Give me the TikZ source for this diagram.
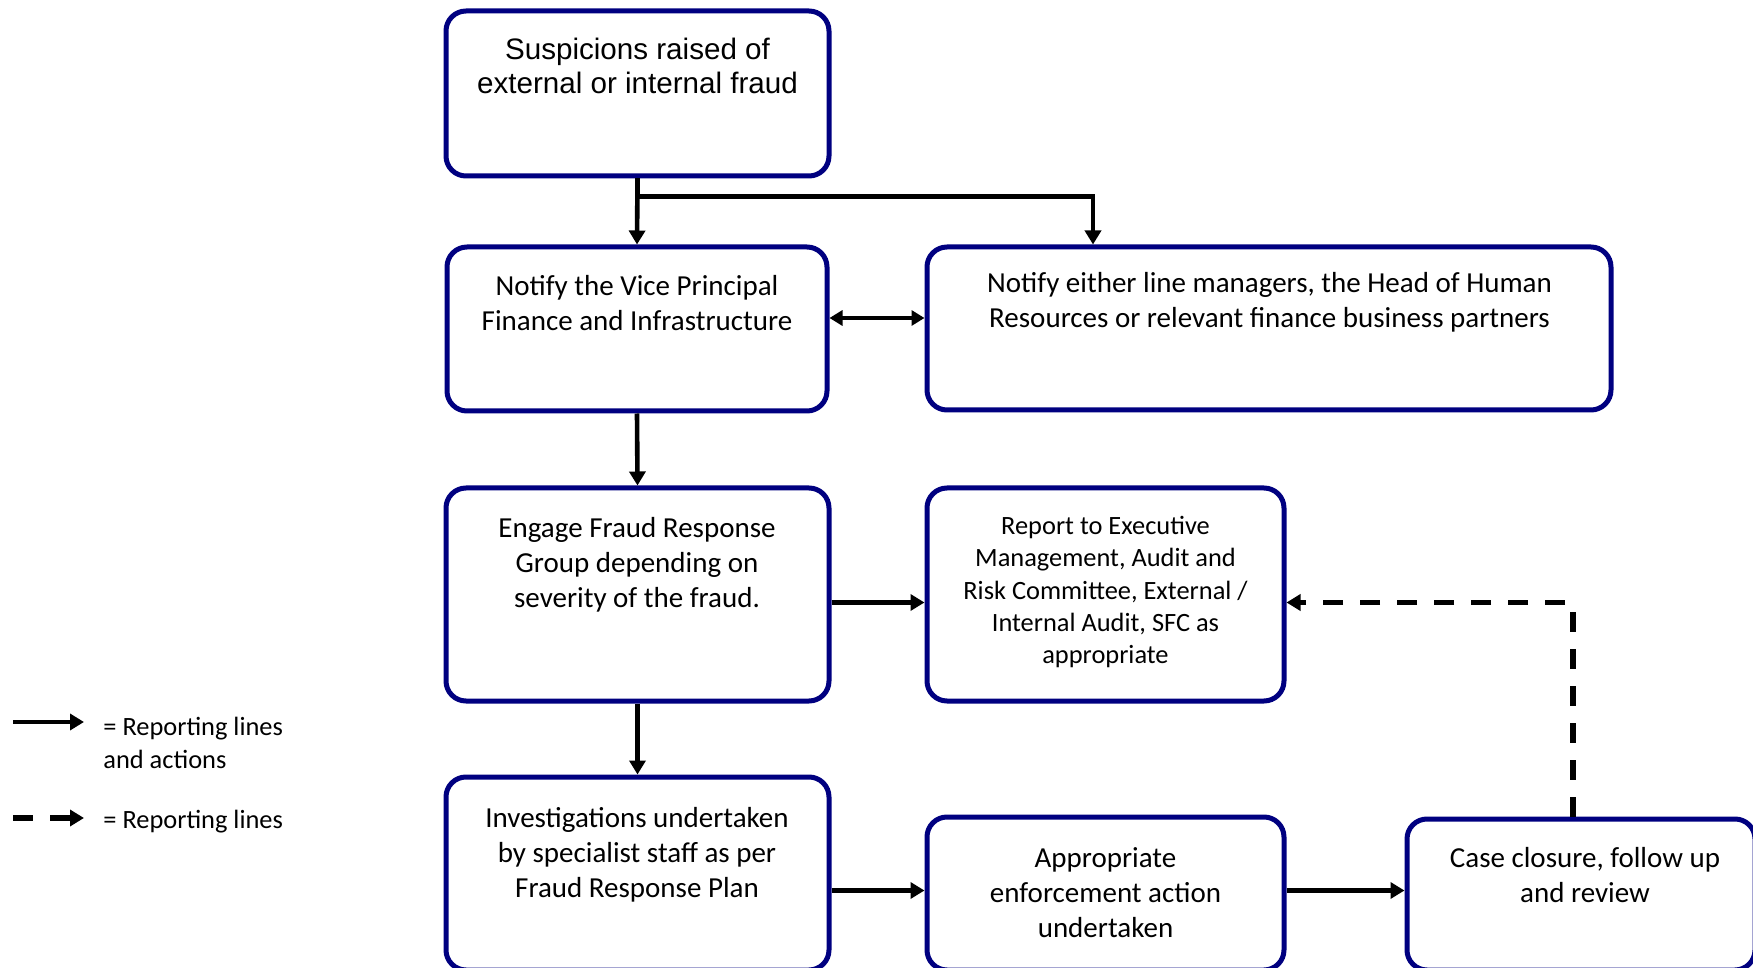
\documentclass[tikz,border=0pt]{standalone}
\usepackage{fontspec}
\setmainfont{Carlito}
\newfontfamily\arialf{Liberation Sans}
\usetikzlibrary{arrows.meta,calc}
\definecolor{boxblue}{RGB}{0,0,128}
\begin{document}
\begin{tikzpicture}[x=0.5pt,y=-0.5pt,
  box/.style={draw=boxblue,line width=2.5pt,rounded corners=10pt,fill=white,inner sep=0pt},
  txt/.style={align=center,font=\fontsize{14.5}{17.5}\selectfont,inner sep=0pt},
  txts/.style={align=center,font=\fontsize{13.2}{16.2}\selectfont,inner sep=0pt},
  arr/.style={line width=2.3pt,-{Triangle[length=7pt,width=8pt]}},
  darr/.style={line width=2.6pt,dash pattern=on 10pt off 8.5pt,-{Triangle[length=7pt,width=8pt]}},
  dbl/.style={line width=2.3pt,{Triangle[length=6.5pt,width=7.5pt]}-{Triangle[length=6.5pt,width=7.5pt]}}]
\useasboundingbox (0,0) rectangle (1753,968);
\clip (0,0) rectangle (1753,968);
\fill[white] (0,0) rectangle (1753,968);
% boxes
\node[box,minimum width=191.5pt,minimum height=82.5pt] (b1) at (637.5,93.5) {};
\node[box,minimum width=190pt,minimum height=82pt] (b2) at (637,329) {};
\node[box,minimum width=342pt,minimum height=81.5pt] (b3) at (1269,328.5) {};
\node[box,minimum width=191.5pt,minimum height=106.5pt] (b4) at (637.5,594.5) {};
\node[box,minimum width=178.5pt,minimum height=106.5pt] (b5) at (1105.5,594.5) {};
\node[box,minimum width=191.5pt,minimum height=96.5pt] (b6) at (637.5,873.5) {};
\node[box,minimum width=178.5pt,minimum height=76.5pt] (b7) at (1105.5,893.5) {};
\node[box,minimum width=174pt,minimum height=75.5pt] (b8) at (1581,894.5) {};
% texts
\node[txt,font=\arialf\fontsize{14.8}{17}\selectfont] (t1) at (637.5,66) {Suspicions raised of\\external or internal fraud};
\node[txt] (t2) at (637,303) {Notify the Vice Principal\\Finance and Infrastructure};
\node[txt] (t3) at (1269.5,302) {Notify either line managers, the Head of Human\\Resources or relevant finance business partners};
\node[txt] (t4) at (637,565) {Engage Fraud Response\\Group depending on\\severity of the fraud.};
\node[txts] (t5) at (1105.5,592) {Report to Executive\\Management, Audit and\\Risk Committee, External /\\Internal Audit, SFC as\\appropriate};
\node[txt] (t6) at (637,855) {Investigations undertaken\\by specialist staff as per\\Fraud Response Plan};
\node[txt] (t7) at (1105.5,893) {Appropriate\\enforcement action\\undertaken};
\node[txt] (t8) at (1585,875) {Case closure, follow up\\and review};
% connectors
\draw[arr] (b1.south) -- (b2.north);
\draw[arr] (b1.south) -- ++(0,18) -| ($(b3.north)+(-176,0)$);
\draw[dbl] ($(b2.east)+(0,-11)$) -- ($(b3.west)+(0,-10.5)$);
\draw[arr] (b2.south) -- (b4.north);
\draw[arr] ($(b4.east)+(0,8)$) -- ($(b5.west)+(0,8)$);
\draw[arr] (b4.south) -- (b6.north);
\draw[arr] ($(b6.east |- b7.west)+(0,-3)$) -- ($(b7.west)+(0,-3)$);
\draw[arr] ($(b7.east)+(0,-3)$) -- ($(b7.east -| b8.west)+(0,-3)$);
\draw[darr] ($(b8.north)+(-8,0)$) |- ($(b5.east)+(0,8)$);
% legend
\coordinate (l1a) at (13,722);
\coordinate (l1b) at (84,722);
\coordinate (l2a) at (13,818);
\coordinate (l2b) at (84,818);
\draw[arr] (l1a) -- (l1b);
\draw[darr] (l2a) -- (l2b);
\node[txts,align=left,anchor=west] (lg1) at (103,743) {= Reporting lines\\and actions};
\node[txts,align=left,anchor=west] (lg2) at (103,822) {= Reporting lines};
\end{tikzpicture}
\end{document}
